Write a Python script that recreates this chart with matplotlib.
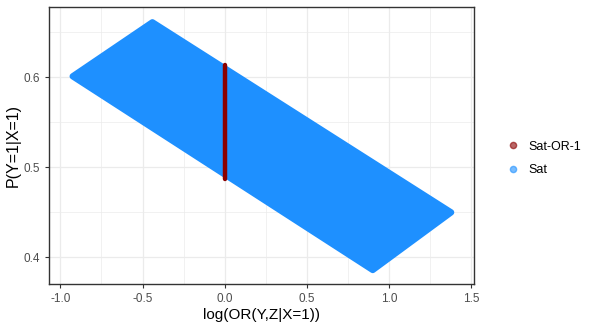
import matplotlib.pyplot as plt
from matplotlib.lines import Line2D

plt.rcParams['font.family'] = ['Liberation Sans', 'DejaVu Sans']

# outline of the "Sat" cloud (corners, set in by the point radius)
sat_x = [-0.925, -0.44, 1.377, 0.90]
sat_y = [0.601, 0.661, 0.450, 0.386]

# "Sat-OR-1" segment at log(OR)=0
or1_x = [0.0, 0.0]
or1_y = [0.487, 0.614]

x_ticks = [-1.0, -0.5, 0.0, 0.5, 1.0, 1.5]
y_ticks = [0.4, 0.5, 0.6]

blue = '#1E90FF'
red = '#8B0000'

fig = plt.figure(figsize=(5.92, 3.3), dpi=100)
ax = fig.add_axes([0.083, 0.138, 0.718, 0.841])

ax.fill(sat_x, sat_y, color=blue, lw=4.5, ec=blue, joinstyle='round', zorder=2)
ax.plot(or1_x, or1_y, color=red, lw=3.2, solid_capstyle='round', zorder=3)

ax.set_xlim(-1.068, 1.517)
ax.set_ylim(0.370, 0.678)
ax.set_xticks(x_ticks)
ax.set_xticklabels(['-1.0', '-0.5', '0.0', '0.5', '1.0', '1.5'])
ax.set_yticks(y_ticks)
ax.set_xticks([-0.75, -0.25, 0.25, 0.75, 1.25], minor=True)
ax.set_yticks([0.45, 0.55, 0.65], minor=True)
ax.grid(which='major', color='#EBEBEB', lw=0.9, zorder=0)
ax.grid(which='minor', color='#EBEBEB', lw=0.5, zorder=0)
ax.set_axisbelow(True)
ax.tick_params(which='major', length=3, color='#333333', labelcolor='#4D4D4D', labelsize=8.5, width=0.8)
ax.tick_params(which='minor', length=0)
for s in ax.spines.values():
    s.set_color('#333333')
    s.set_linewidth(1.0)

ax.set_xlabel('log(OR(Y,Z|X=1))', fontsize=11, labelpad=2)
ax.set_ylabel('P(Y=1|X=1)', fontsize=11.5, labelpad=2)

handles = [
    Line2D([], [], ls='', marker='o', ms=4.5, color=red, alpha=0.6, mec=red),
    Line2D([], [], ls='', marker='o', ms=4.5, color=blue, alpha=0.6, mec=blue),
]
fig.legend(handles, ['Sat-OR-1', 'Sat'], loc='center left', bbox_to_anchor=(0.835, 0.52),
           frameon=False, fontsize=9, handletextpad=0.6, labelspacing=0.9, handlelength=1.2)

fig.savefig('out.png', dpi=100)
